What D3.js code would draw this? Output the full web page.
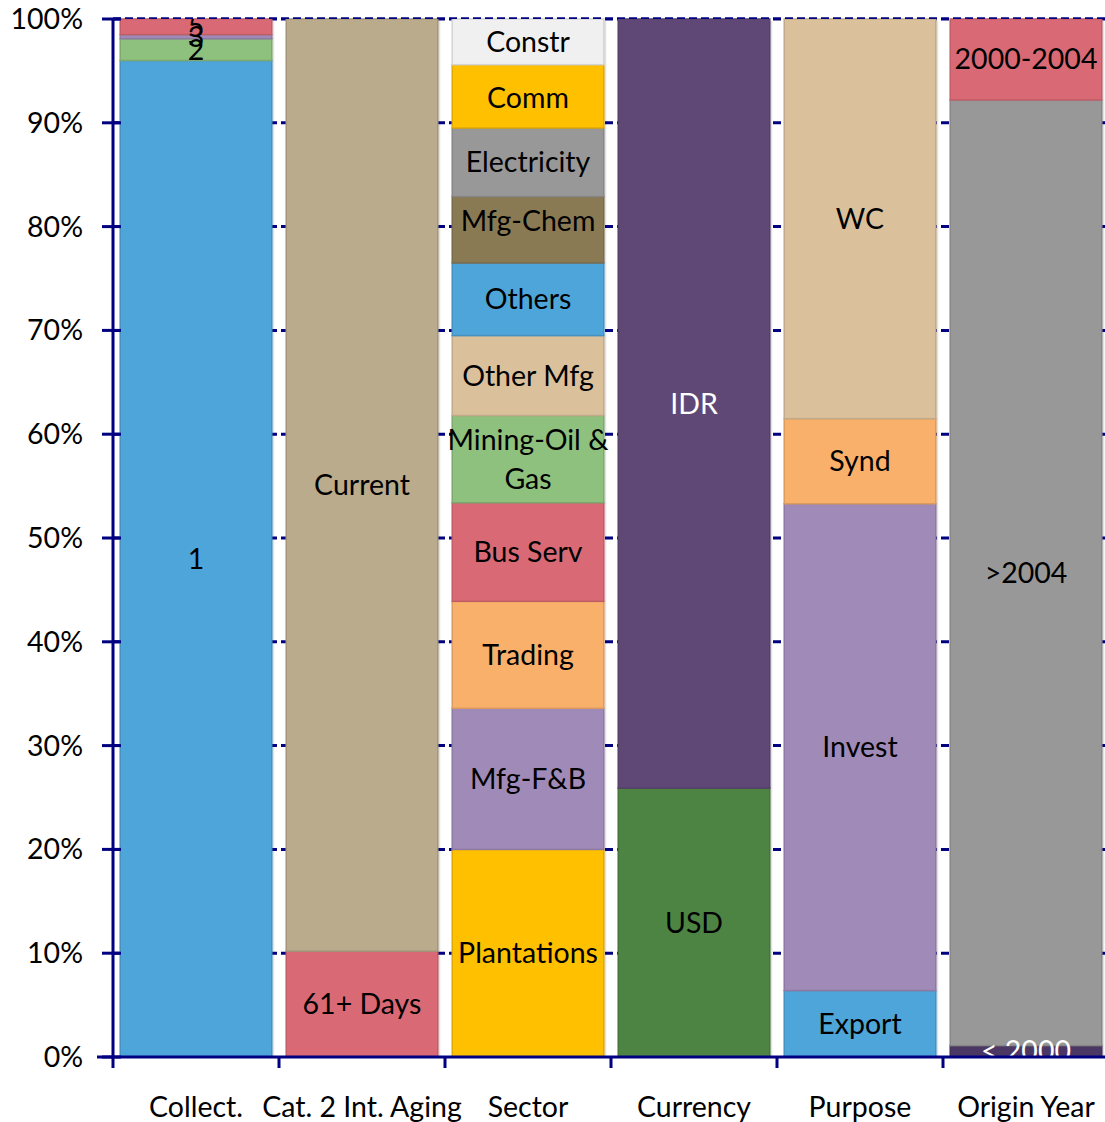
<!DOCTYPE html>
<html>
<head>
<meta charset="utf-8">
<script src="https://cdn.jsdelivr.net/npm/d3@7"></script>
<style>
  html, body { margin: 0; padding: 0; background: #fff; }
  svg { display: block; }
  text { font-family: Lato, "Open Sans", sans-serif; }
</style>
</head>
<body>
<svg id="chart" width="1105" height="1122"></svg>
<script>
// ---------------- DATA ----------------
const categories = ["Collect.", "Cat. 2 Int. Aging", "Sector", "Currency", "Purpose", "Origin Year"];

const collectLabels = ["1", "2", "3", "5"];
const collectValues = [96.0, 2.1, 0.4, 1.5];

const agingLabels = ["61+ Days", "Current"];
const agingValues = [10.2, 89.8];

const sectorLabels = ["Plantations", "Mfg-F&B", "Trading", "Bus Serv", "Mining-Oil &\nGas",
                      "Other Mfg", "Others", "Mfg-Chem", "Electricity", "Comm", "Constr"];
const sectorValues = [20.0, 13.6, 10.3, 9.5, 8.4, 7.7, 7.0, 6.4, 6.6, 6.1, 4.4];

const currencyLabels = ["USD", "IDR"];
const currencyValues = [25.9, 74.1];

const purposeLabels = ["Export", "Invest", "Synd", "WC"];
const purposeValues = [6.4, 46.9, 8.2, 38.5];

const originLabels = ["< 2000", ">2004", "2000-2004"];
const originValues = [1.1, 91.1, 7.8];

const yTicks = [0, 10, 20, 30, 40, 50, 60, 70, 80, 90, 100];

// ---------------- STYLE ----------------
const colorMap = {
  "1": "#4ea5d9", "2": "#8ec07e", "3": "#a08ab8", "5": "#d96a75",
  "61+ Days": "#d96a75", "Current": "#b9ab8b",
  "Plantations": "#ffc000", "Mfg-F&B": "#a08ab8", "Trading": "#f9b06a", "Bus Serv": "#d96a75",
  "Mining-Oil &\nGas": "#8ec07e", "Other Mfg": "#dac19c", "Others": "#4ea5d9",
  "Mfg-Chem": "#8a7a54", "Electricity": "#989898", "Comm": "#ffc000", "Constr": "#f0f0f0",
  "USD": "#4e8443", "IDR": "#5f4876",
  "Export": "#4ea5d9", "Invest": "#a08ab8", "Synd": "#f9b06a", "WC": "#dac19c",
  "< 2000": "#4b3764", ">2004": "#989898", "2000-2004": "#d96a75"
};
const whiteText = new Set(["IDR", "< 2000"]);
const labelNudge = { "Mfg-Chem": -9, "Comm": 2 };
const navy = "#000080";
const fontSize = 28.5;

const groups = [
  [collectLabels, collectValues],
  [agingLabels, agingValues],
  [sectorLabels, sectorValues],
  [currencyLabels, currencyValues],
  [purposeLabels, purposeValues],
  [originLabels, originValues]
];

// build stacked segments
const segments = [];
groups.forEach(([labels, values], gi) => {
  let acc = 0;
  labels.forEach((lab, i) => {
    segments.push({ cat: categories[gi], label: lab, y0: acc, y1: acc + values[i] });
    acc += values[i];
  });
});

// ---------------- LAYOUT ----------------
const plotL = 113, plotR = 1109, plotT = 19, plotB = 1057;
const svg = d3.select("#chart");

const x = d3.scaleBand().domain(categories).range([plotL, plotR])
  .paddingInner(0.087).paddingOuter(0.0435);
const y = d3.scaleLinear().domain([0, 100]).range([plotB, plotT]);

// shadows
svg.append("g").selectAll("rect")
  .data(categories)
  .join("rect")
  .attr("x", d => x(d) + 2.5)
  .attr("y", y(100) + 2)
  .attr("width", x.bandwidth())
  .attr("height", y(0) - y(100) - 2)
  .attr("fill", "#e2e2e2");

// gridlines
svg.append("g").selectAll("line")
  .data(yTicks.filter(d => d > 0))
  .join("line")
  .attr("x1", plotL).attr("x2", 1105)
  .attr("y1", d => y(d)).attr("y2", d => y(d))
  .attr("stroke", navy).attr("stroke-width", 3)
  .attr("stroke-dasharray", "8,4");

// bars
svg.append("g").selectAll("rect")
  .data(segments)
  .join("rect")
  .attr("x", d => x(d.cat))
  .attr("y", d => y(d.y1))
  .attr("width", x.bandwidth())
  .attr("height", d => y(d.y0) - y(d.y1))
  .attr("fill", d => colorMap[d.label])
  .attr("stroke", d => d3.color(colorMap[d.label]).darker(0.35))
  .attr("stroke-width", 1.5);

// top gridline re-drawn over bars (visible at the 100% edge)
svg.append("line")
  .attr("x1", plotL).attr("x2", 1105)
  .attr("y1", y(100) - 0.75).attr("y2", y(100) - 0.75)
  .attr("stroke", navy).attr("stroke-width", 1.5)
  .attr("stroke-dasharray", "8,4");

// labels (clipped to plot)
svg.append("clipPath").attr("id", "plotclip")
  .append("rect").attr("x", plotL).attr("y", plotT)
  .attr("width", plotR - plotL).attr("height", plotB - plotT);

const lineH = 39;
const lab = svg.append("g").attr("clip-path", "url(#plotclip)")
  .selectAll("text")
  .data(segments)
  .join("text")
  .attr("text-anchor", "middle")
  .attr("font-size", fontSize)
  .attr("fill", d => whiteText.has(d.label) ? "#fff" : "#000");
lab.each(function (d) {
  const lines = d.label.split("\n");
  const t = d3.select(this);
  const cy = y((d.y0 + d.y1) / 2) + (labelNudge[d.label] || 0);
  lines.forEach((ln, i) => {
    t.append("tspan")
      .attr("x", x(d.cat) + x.bandwidth() / 2)
      .attr("y", cy + (i - (lines.length - 1) / 2) * lineH)
      .attr("dy", "0.35em")
      .text(ln);
  });
});

// y axis
svg.append("line")
  .attr("x1", plotL).attr("x2", plotL).attr("y1", plotT).attr("y2", plotB)
  .attr("stroke", navy).attr("stroke-width", 3);
svg.append("g").selectAll("line")
  .data(yTicks)
  .join("line")
  .attr("x1", 102).attr("x2", 121)
  .attr("y1", d => y(d)).attr("y2", d => y(d))
  .attr("stroke", navy).attr("stroke-width", 3);
svg.append("g").selectAll("text")
  .data(yTicks)
  .join("text")
  .attr("x", 83).attr("y", d => y(d))
  .attr("dy", "0.35em")
  .attr("text-anchor", "end")
  .attr("font-size", fontSize)
  .attr("fill", "#000")
  .text(d => d + "%");

// x axis
svg.append("line")
  .attr("x1", 97).attr("x2", 1105).attr("y1", plotB).attr("y2", plotB)
  .attr("stroke", navy).attr("stroke-width", 3);
const boundaries = categories.map(c => x(c) - x.step() * x.paddingInner() / 2);
boundaries[0] = plotL;
svg.append("g").selectAll("line")
  .data(boundaries)
  .join("line")
  .attr("x1", d => d).attr("x2", d => d)
  .attr("y1", plotB).attr("y2", plotB + 11)
  .attr("stroke", navy).attr("stroke-width", 3);
svg.append("g").selectAll("text")
  .data(categories)
  .join("text")
  .attr("x", d => x(d) + x.bandwidth() / 2)
  .attr("y", 1117)
  .attr("text-anchor", "middle")
  .attr("font-size", fontSize)
  .attr("fill", "#000")
  .text(d => d);
</script>
</body>
</html>
